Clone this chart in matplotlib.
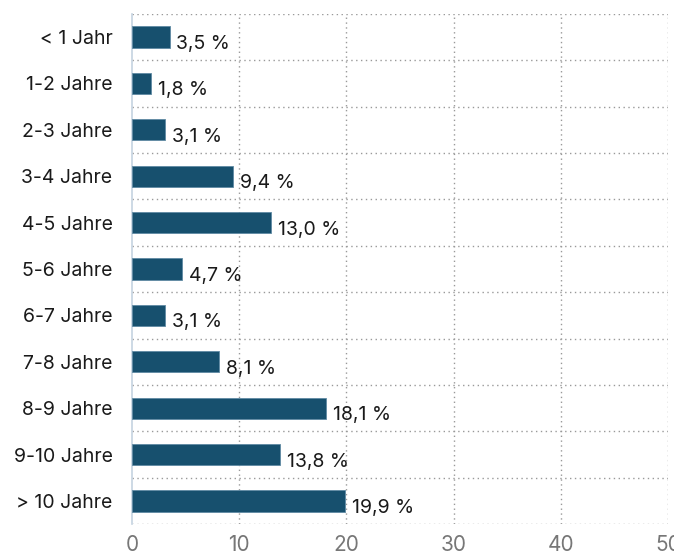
import matplotlib
matplotlib.use("Agg")
import matplotlib.pyplot as plt

categories = ["< 1 Jahr", "1-2 Jahre", "2-3 Jahre", "3-4 Jahre", "4-5 Jahre", "5-6 Jahre",
              "6-7 Jahre", "7-8 Jahre", "8-9 Jahre", "9-10 Jahre", "> 10 Jahre"]
values = [3.5, 1.8, 3.1, 9.4, 13.0, 4.7, 3.1, 8.1, 18.1, 13.8, 19.9]
xticks = [0, 10, 20, 30, 40, 50]

plt.rcParams['font.family'] = ['Inter', 'DejaVu Sans']

fig = plt.figure(figsize=(6.74, 5.51), dpi=100)
ax = fig.add_axes([132/674, 1 - 524.2/551, (668 - 132)/674, (524.2 - 13.8)/551])

n = len(categories)
ys = list(range(n))
ax.barh(ys, values, height=0.46, color="#17506e", edgecolor="#5f8aa3", linewidth=0.6, zorder=3)

for y, v in zip(ys, values):
    ax.annotate(f"{v:.1f} %".replace(".", ","), xy=(v, y), xytext=(5, -5),
                textcoords="offset points", ha="left", va="center",
                fontsize=14, color="#1a1a1a", zorder=4)

ax.set_ylim(n - 0.5, -0.5)
ax.set_xlim(0, 50)
ax.set_yticks(ys)
ax.set_yticklabels(categories, fontsize=14, color="#1a1a1a")
ax.set_xticks(xticks)
ax.set_xticklabels([str(t) for t in xticks], fontsize=15, color="#777777")
ax.tick_params(axis="both", length=0)
ax.tick_params(axis="y", pad=14)
ax.tick_params(axis="x", pad=8)

# horizontal gridlines at category boundaries
for b in [i - 0.5 for i in range(n + 1)]:
    ax.axhline(b, color="#999999", linestyle=(0, (1, 2.5)), linewidth=1.0, zorder=1)
for t in xticks[1:]:
    ax.axvline(t, color="#999999", linestyle=(0, (1, 2.5)), linewidth=1.0, zorder=1)

for s in ["top", "right", "bottom"]:
    ax.spines[s].set_visible(False)
ax.spines["left"].set_color("#c5d3e0")
ax.spines["left"].set_linewidth(1.2)
ax.spines["left"].set_zorder(2)

fig.savefig("out.png", dpi=100)
